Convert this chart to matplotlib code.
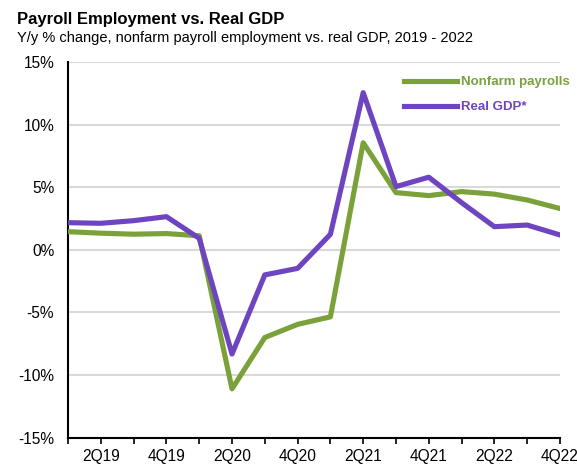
import matplotlib.pyplot as plt
from matplotlib.ticker import FuncFormatter

plt.rcParams['font.family'] = ['Liberation Sans', 'DejaVu Sans']

# quarters 1Q19 .. 4Q22
quarters = ['1Q19', '2Q19', '3Q19', '4Q19', '1Q20', '2Q20', '3Q20', '4Q20',
            '1Q21', '2Q21', '3Q21', '4Q21', '1Q22', '2Q22', '3Q22', '4Q22']
payrolls = [1.45, 1.33, 1.25, 1.3, 1.12, -11.1, -7.0, -5.95,
            -5.35, 8.55, 4.57, 4.33, 4.65, 4.45, 3.98, 3.3]
real_gdp = [2.17, 2.12, 2.33, 2.65, 0.92, -8.32, -2.0, -1.48,
            1.24, 12.55, 5.05, 5.8, 3.77, 1.85, 1.98, 1.19]

green = '#7BA23A'
purple = '#6E44C0'

fig = plt.figure(figsize=(5.77, 4.65), dpi=100)
ax = fig.add_axes([0.1179, 0.0587, 0.8526, 0.808])

x = list(range(len(quarters)))
ax.plot(x, payrolls, color=green, linewidth=3.7, label='Nonfarm payrolls', zorder=3)
ax.plot(x, real_gdp, color=purple, linewidth=3.7, label='Real GDP*', zorder=4)

ax.set_xlim(0, len(quarters) - 1)
ax.set_ylim(-15, 15)
ax.set_yticks([-15, -10, -5, 0, 5, 10, 15])
ax.yaxis.set_major_formatter(FuncFormatter(lambda v, p: '%d%%' % v))
ax.set_xticks(x)
ax.set_xticklabels([q if i % 2 == 1 else '' for i, q in enumerate(quarters)])
ax.tick_params(axis='x', direction='out', length=4, width=1.2, labelsize=11.2, pad=4, color='black')
ax.tick_params(axis='y', length=0, labelsize=11.2, pad=10)

ax.grid(axis='y', color='#D9D9D9', linewidth=1.5)
ax.set_axisbelow(True)
for s in ['top', 'right']:
    ax.spines[s].set_visible(False)
ax.spines['left'].set_linewidth(1.5)
ax.spines['bottom'].set_linewidth(1.5)
ax.spines['bottom'].set_zorder(5)

leg = ax.legend(loc='upper left', bbox_to_anchor=(0.683, 0.962), frameon=False,
                borderaxespad=0, borderpad=0,
                handlelength=4.0, handletextpad=0.35, labelspacing=0.95,
                prop={'weight': 'bold', 'size': 9.5})
for txt, c in zip(leg.get_texts(), [green, purple]):
    txt.set_color(c)

fig.text(0.03, 0.958, 'Payroll Employment vs. Real GDP', fontsize=12, fontweight='bold', va='center')
fig.text(0.03, 0.918, 'Y/y % change, nonfarm payroll employment vs. real GDP, 2019 - 2022', fontsize=10.5, va='center')

fig.savefig('out.png', dpi=100)
